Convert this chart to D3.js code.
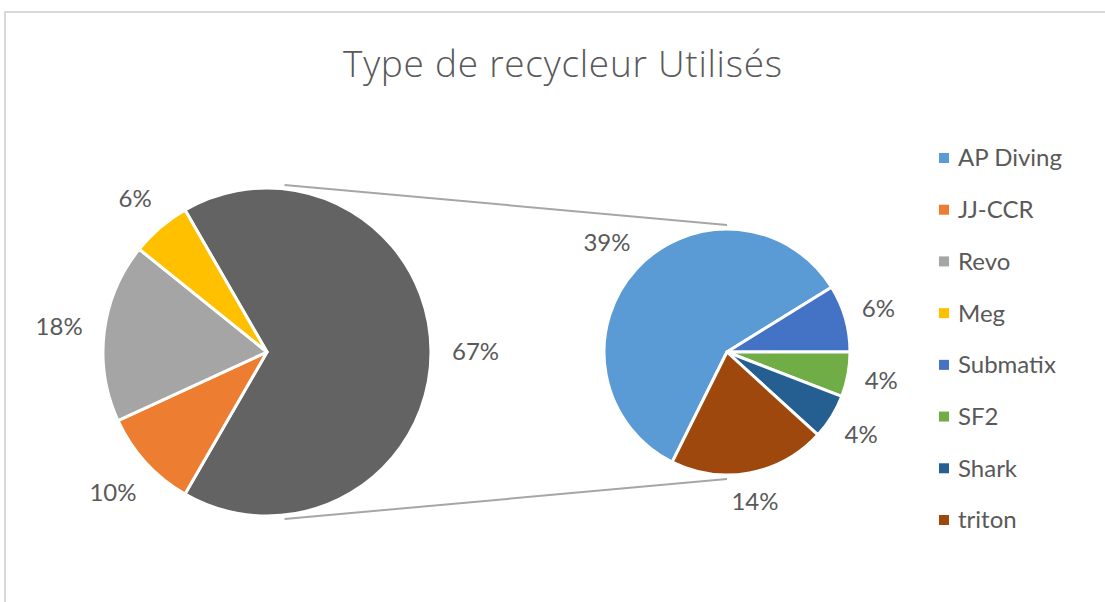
<!DOCTYPE html>
<html>
  <head>
    <meta charset="utf-8">
    <title>Type de recycleur Utilisés</title>
    <script src="https://cdn.jsdelivr.net/npm/d3@7"></script>
    <style type="text/css">
    body { margin: 0; background: #fff; }
    text { font-family: Lato, "Open Sans", sans-serif; fill: #595959; }
    </style>
  </head>
  <body>
  <script type="text/javascript">

    // counts read back from the percent labels (total 51)
    var mainNames  = ["JJ-CCR", "Revo", "Meg"];
    var mainValues = [5, 9, 3];
    var subNames   = ["AP Diving", "Submatix", "SF2", "Shark", "triton"];
    var subValues  = [20, 3, 2, 2, 7];
    var legendNames = ["AP Diving", "JJ-CCR", "Revo", "Meg", "Submatix", "SF2", "Shark", "triton"];
    var legendColors = ["#5b9bd5", "#ed7d31", "#a5a5a5", "#ffc000", "#4472c4", "#70ad47", "#255e91", "#9e480e"];
    var otherColor = "#636363";

    var W = 1105, H = 602;
    var color = d3.scaleOrdinal().domain(legendNames).range(legendColors);

    var svg = d3.select("body").append("svg")
      .attr("width", W).attr("height", H);

    // chart frame
    svg.append("rect")
      .attr("x", 5).attr("y", 12)
      .attr("width", W + 50).attr("height", H + 50)
      .attr("fill", "#fff")
      .attr("stroke", "#d9d9d9").attr("stroke-width", 2);

    svg.append("text")
      .attr("x", 343).attr("y", 77)
      .attr("textLength", 439).attr("lengthAdjust", "spacing")
      .style("font-family", "'Open Sans', sans-serif")
      .style("font-size", "37px").style("font-weight", 300)
      .text("Type de recycleur Utilisés");

    var subTotal = d3.sum(subValues);
    var total = d3.sum(mainValues) + subTotal;
    var pct = function(v) { return Math.round(v / total * 100) + "%"; };

    // main pie : "other" slice centred on 3 o'clock
    var mainData = [{name: "other", value: subTotal}].concat(
      mainNames.map(function(n, i) { return {name: n, value: mainValues[i]}; }));
    var otherShare = subTotal / total;
    var a0 = Math.PI / 2 - Math.PI * otherShare;
    var mainPie = d3.pie().sort(null).value(function(d) { return d.value; })
      .startAngle(a0).endAngle(a0 + 2 * Math.PI);

    // second pie : SF2 starts at 3 o'clock, going clockwise
    var subData = subNames.map(function(n, i) { return {name: n, value: subValues[i]}; });
    var b0 = Math.PI / 2 - 2 * Math.PI * (subValues[0] + subValues[1]) / subTotal;
    var subPie = d3.pie().sort(null).value(function(d) { return d.value; })
      .startAngle(b0).endAngle(b0 + 2 * Math.PI);

    var c1 = {x: 267, y: 352, r: 164};
    var c2 = {x: 727, y: 352, r: 123};

    // connector lines
    var conn = svg.append("g").attr("stroke", "#a6a6a6").attr("stroke-width", 2);
    [-1, 1].forEach(function(s) {
      var ang = 84 * Math.PI / 180;
      conn.append("line")
        .attr("x1", c1.x + (c1.r + 4) * Math.cos(ang))
        .attr("y1", c1.y + s * (c1.r + 4) * Math.sin(ang))
        .attr("x2", c2.x)
        .attr("y2", c2.y + s * (c2.r + 4));
    });

    function drawPie(c, arcs, fillFn, pad) {
      var g = svg.append("g").attr("transform", "translate(" + c.x + "," + c.y + ")");
      var arc = d3.arc().innerRadius(0).outerRadius(c.r);
      g.selectAll("path").data(arcs).enter().append("path")
        .attr("d", arc)
        .attr("fill", fillFn)
        .attr("stroke", "#fff").attr("stroke-width", 3)
        .attr("stroke-linejoin", "round");

      g.selectAll("text").data(arcs).enter().append("text")
        .style("font-size", "24px")
        .attr("text-anchor", "middle")
        .attr("dy", "0.35em")
        .text(function(d) { return pct(d.value); })
        .each(function(d) {
          var bb = this.getBBox();
          var m = (d.startAngle + d.endAngle) / 2;
          var dx = Math.sin(m), dy = -Math.cos(m);
          var proj = Math.abs(dx) * bb.width / 2 + Math.abs(dy) * 9;
          var rr = c.r + pad + proj;
          d3.select(this).attr("x", dx * rr).attr("y", dy * rr);
        });
    }

    drawPie(c1, mainPie(mainData), function(d) {
      return d.data.name == "other" ? otherColor : color(d.data.name);
    }, 21);
    drawPie(c2, subPie(subData), function(d) { return color(d.data.name); }, 16);

    // legend
    var ly = d3.scalePoint().domain(legendNames).range([158, 520]);
    var leg = svg.append("g").selectAll("g").data(legendNames).enter().append("g")
      .attr("transform", function(d) { return "translate(939," + ly(d) + ")"; });
    leg.append("rect")
      .attr("x", 0).attr("y", -5).attr("width", 10).attr("height", 10)
      .attr("fill", function(d) { return color(d); });
    leg.append("text")
      .attr("x", 19).attr("dy", "0.35em")
      .style("font-size", "24px")
      .text(function(d) { return d; });

  </script>
  </body>
</html>
